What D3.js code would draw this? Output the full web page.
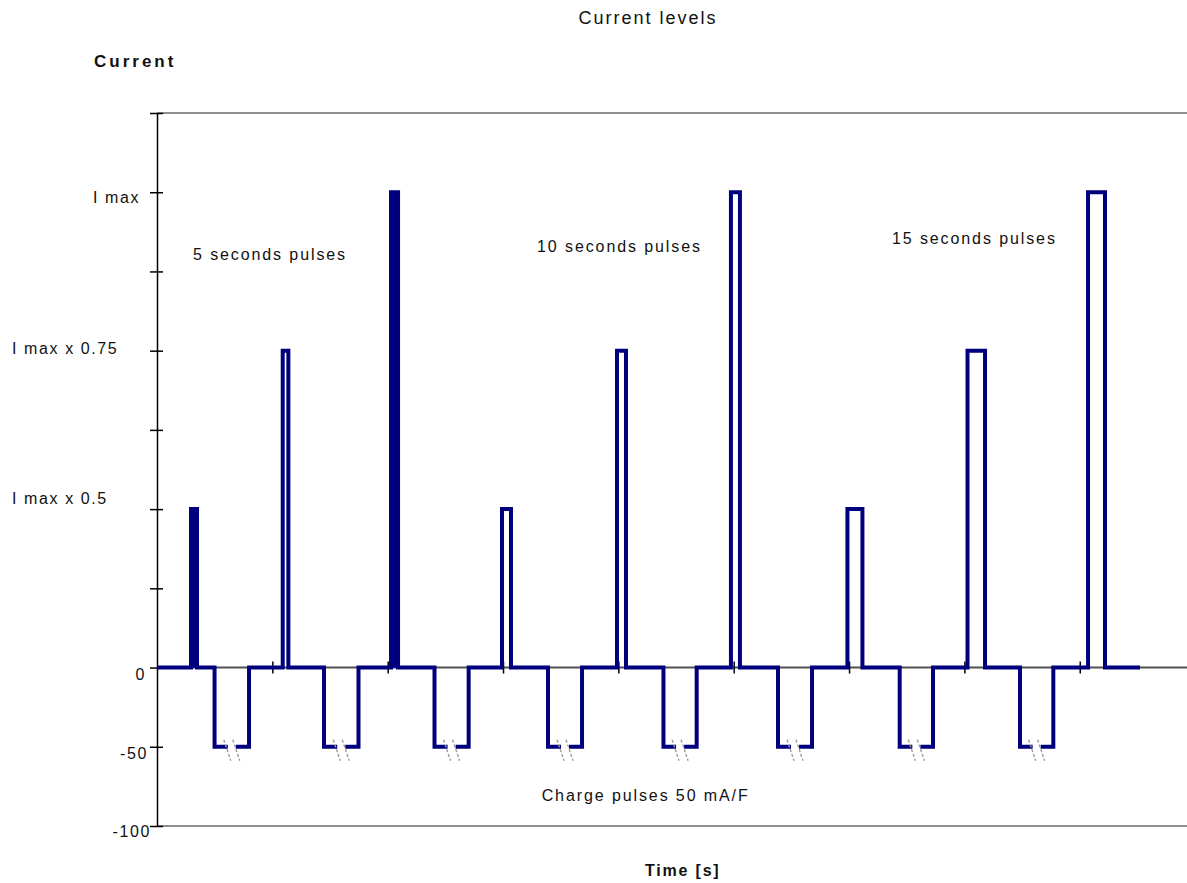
<!DOCTYPE html>
<html>
<head>
<meta charset="utf-8">
<title>Current levels</title>
<script src="https://cdn.jsdelivr.net/npm/d3@7/dist/d3.min.js"></script>
<style>
  html, body { margin: 0; padding: 0; background: #fff; }
  svg { display: block; }
  text { font-family: "Liberation Sans", Arial, Helvetica, sans-serif; fill: #111; }
</style>
</head>
<body>
<svg id="chart" width="1187" height="883"></svg>
<script>
// Discharge pulses: start / end time (in cycle units) and level
const pulseStart = [0.295, 1.090, 2.029, 2.991, 3.988, 4.976, 5.986, 7.027, 8.072];
const pulseEnd   = [0.347, 1.139, 2.090, 3.069, 4.066, 5.054, 6.116, 7.179, 8.219];
const pulseLevel = [100, 200, 300, 100, 200, 300, 100, 200, 300];
const solidPulses = [0, 2];

// Charge pulses at -50 (50 mA/F)
const chargeStart = [0.499, 1.448, 2.406, 3.390, 4.391, 5.384, 6.439, 7.482];
const chargeEnd   = [0.798, 1.747, 2.702, 3.685, 4.679, 5.679, 6.728, 7.771];
const chargeLevel = -50;
const traceEnd = 8.523;

// Axis ticks and labels
const xTickValues = [1, 2, 3, 4, 5, 6, 7, 8];
const yTickValues = [-100, -50, 0, 50, 100, 150, 200, 250, 300, 350];
const yLabelValues = [300, 200, 100, 0, -50, -100];
const yLabelTexts = ["I max", "I max x 0.75", "I max x 0.5", "0", "-50", "-100"];

const svg = d3.select("#chart");
const x = d3.scaleLinear().domain([0, 8.93]).range([157, 1187]);
const y = d3.scaleLinear().domain([-100, 350]).range([826, 113]);
const navy = "#00007f";

// frame lines at top and bottom of the plot
[350, -100].forEach(v => {
  svg.append("line")
    .attr("x1", x(0)).attr("x2", 1187)
    .attr("y1", y(v)).attr("y2", y(v))
    .attr("stroke", "#8e8e8e").attr("stroke-width", 2);
});

// zero line with crossing time ticks
svg.append("line")
  .attr("x1", x(0)).attr("x2", 1187)
  .attr("y1", y(0)).attr("y2", y(0))
  .attr("stroke", "#505050").attr("stroke-width", 2);
const xAxis = svg.append("g")
  .attr("transform", `translate(0,${y(0)})`)
  .call(d3.axisBottom(x).tickValues(xTickValues).tickSize(5).tickFormat(""));
xAxis.select(".domain").remove();
xAxis.selectAll(".tick line").attr("y1", -6).attr("y2", 6)
  .attr("stroke", "#000").attr("stroke-width", 1.5);

// current axis
const yAxis = svg.append("g")
  .attr("transform", `translate(${x(0)},0)`)
  .call(d3.axisLeft(y).tickValues(yTickValues).tickSize(6).tickSizeOuter(0).tickFormat(""));
yAxis.select(".domain").attr("stroke", "#000").attr("stroke-width", 1.5);
yAxis.selectAll(".tick line").attr("x1", 6).attr("x2", -7)
  .attr("stroke", "#000").attr("stroke-width", 1.5);

// axis labels
const labelStyle = {
  "I max":        { anchor: "end",   x: 140, dy: 11 },
  "I max x 0.75": { anchor: "start", x: 12,  dy: 3 },
  "I max x 0.5":  { anchor: "start", x: 12,  dy: -5 },
  "0":            { anchor: "end",   x: 146, dy: 12 },
  "-50":          { anchor: "end",   x: 148, dy: 12 },
  "-100":         { anchor: "end",   x: 151, dy: 11 }
};
svg.append("g").selectAll("text")
  .data(yLabelValues.map((v, i) => ({ v, t: yLabelTexts[i] })))
  .join("text")
  .attr("x", d => labelStyle[d.t].x)
  .attr("y", d => y(d.v) + labelStyle[d.t].dy)
  .attr("text-anchor", d => labelStyle[d.t].anchor)
  .attr("font-size", 16)
  .attr("letter-spacing", 1.6)
  .text(d => d.t);

// waveform
const events = [];
pulseStart.forEach((s, i) => events.push({ kind: "pulse", s, e: pulseEnd[i], v: pulseLevel[i], i }));
chargeStart.forEach((s, i) => events.push({ kind: "charge", s, e: chargeEnd[i], v: chargeLevel, i }));
events.sort((a, b) => a.s - b.s);

const y0 = y(0);
const gap = 4;
const path = d3.path();
path.moveTo(x(0), y0);
events.forEach(ev => {
  const xs = x(ev.s), xe = x(ev.e), yv = y(ev.v);
  path.lineTo(xs, y0);
  path.lineTo(xs, yv);
  if (ev.kind === "charge") {
    const mid = (xs + xe) / 2;
    path.lineTo(mid - gap, yv);
    path.moveTo(mid + gap, yv);
  }
  path.lineTo(xe, yv);
  path.lineTo(xe, y0);
});
path.lineTo(x(traceEnd), y0);

// short pulses drawn solid
svg.append("g").selectAll("rect")
  .data(solidPulses)
  .join("rect")
  .attr("x", i => x(pulseStart[i]))
  .attr("y", i => y(pulseLevel[i]))
  .attr("width", i => x(pulseEnd[i]) - x(pulseStart[i]))
  .attr("height", i => y0 - y(pulseLevel[i]))
  .attr("fill", navy);

svg.append("path")
  .attr("d", path.toString())
  .attr("fill", "none")
  .attr("stroke", navy)
  .attr("stroke-width", 4)
  .attr("stroke-linejoin", "miter");

// break marks on the charge pulses
const breaks = svg.append("g");
chargeStart.forEach((s, i) => {
  const mid = (x(s) + x(chargeEnd[i])) / 2;
  const yb = y(chargeLevel);
  [-4.5, 4.5].forEach(off => {
    breaks.append("line")
      .attr("x1", mid + off - 3.5).attr("y1", yb - 7)
      .attr("x2", mid + off + 3.5).attr("y2", yb + 14)
      .attr("stroke", "#9a9a9a").attr("stroke-width", 1.4)
      .attr("stroke-dasharray", "3,2");
  });
});

// titles and annotations
svg.append("text").attr("x", 648).attr("y", 24)
  .attr("text-anchor", "middle").attr("font-size", 18).attr("letter-spacing", 2)
  .text("Current levels");
svg.append("text").attr("x", 94).attr("y", 67)
  .attr("font-size", 17).attr("font-weight", "bold").attr("letter-spacing", 3)
  .text("Current");
svg.append("text").attr("x", 645).attr("y", 876)
  .attr("font-size", 16).attr("font-weight", "bold").attr("letter-spacing", 1.8)
  .text("Time [s]");

const notes = [
  { t: "5 seconds pulses",      u: 0.312, v: 257 },
  { t: "10 seconds pulses",     u: 3.295, v: 262 },
  { t: "15 seconds pulses",     u: 6.372, v: 267.5 },
  { t: "Charge pulses 50 mA/F", u: 3.335, v: -84.5 }
];
svg.append("g").selectAll("text")
  .data(notes)
  .join("text")
  .attr("x", d => x(d.u))
  .attr("y", d => y(d.v))
  .attr("font-size", 16)
  .attr("letter-spacing", 1.9)
  .text(d => d.t);
</script>
</body>
</html>
